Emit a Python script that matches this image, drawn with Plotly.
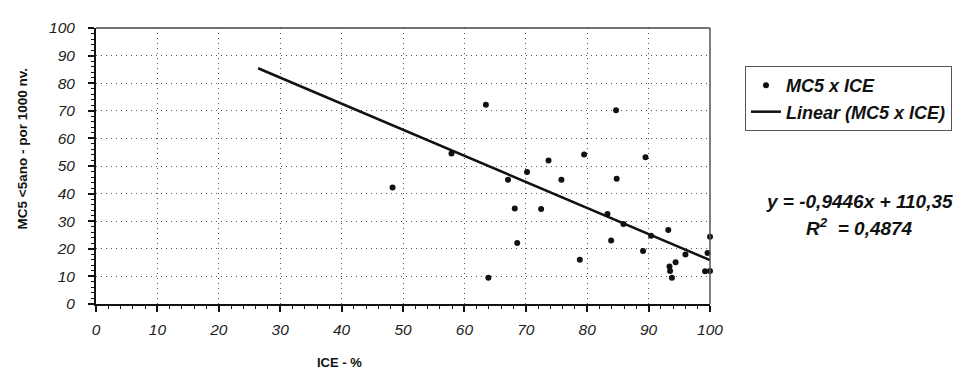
import plotly.graph_objects as go

# Data
ice_pct = [63.5, 84.7, 57.9, 79.5, 89.5, 73.7, 70.2, 67.1, 75.8, 84.8,
           68.2, 72.5, 83.3, 85.9, 93.2, 90.4, 100.0, 68.6, 83.9, 89.1,
           99.6, 96.0, 78.8, 94.4, 93.4, 93.5, 99.2, 100.0, 93.8, 63.9, 48.3]
mc5 = [72.2, 70.2, 54.5, 54.2, 53.2, 52.0, 47.8, 45.0, 45.0, 45.4,
       34.6, 34.4, 32.6, 29.0, 26.8, 24.7, 24.4, 22.1, 23.0, 19.2,
       18.5, 17.9, 16.0, 15.1, 13.6, 12.0, 11.9, 12.0, 9.5, 9.5, 42.2]

# Trendline as reported in the chart
slope = -0.9446
intercept = 110.35
trend_x = [26.4, 100.0]
trend_y = [slope * x + intercept for x in trend_x]

x_ticks = list(range(0, 101, 10))
y_ticks = list(range(0, 101, 10))
x_tick_labels = [f"<i>{v}</i>" for v in x_ticks]
y_tick_labels = [f"<i>{v}</i>" for v in y_ticks]

FONT = "Liberation Sans, Arial, sans-serif"

fig = go.Figure()
fig.add_trace(go.Scatter(
    x=ice_pct, y=mc5, mode="markers", name="MC5 x ICE",
    marker=dict(color="#111111", size=6), cliponaxis=False))
fig.add_trace(go.Scatter(
    x=trend_x, y=trend_y, mode="lines", name="Linear (MC5 x ICE)",
    line=dict(color="#111111", width=2.5), cliponaxis=False))

axis_common = dict(
    range=[0, 100], showline=True, linecolor="#111111", linewidth=2,
    ticks="outside", ticklen=6, tickwidth=1.5, tickcolor="#111111",
    showgrid=True, gridcolor="#555555", griddash="1px,4px", gridwidth=1,
    zeroline=False,
    tickfont=dict(family=FONT, size=15.5, color="#222222"),
    minor=dict(dtick=2, ticks="outside", ticklen=3, tickcolor="#111111",
               tickwidth=1, showgrid=False),
)

fig.update_xaxes(tickvals=x_ticks, ticktext=x_tick_labels, ticklabelstandoff=4,
                 **axis_common)
fig.update_yaxes(tickvals=y_ticks, ticktext=y_tick_labels, ticklabelstandoff=10,
                 **axis_common)

# top and right border of plot area
fig.add_shape(type="line", xref="paper", yref="paper", x0=0, x1=1, y0=1, y1=1,
              line=dict(color="#444444", width=1.5))
fig.add_shape(type="line", xref="paper", yref="paper", x0=1, x1=1, y0=0, y1=1,
              line=dict(color="#555555", width=1.5))

fig.add_annotation(text="MC5 <5ano - por 1000 nv.", xref="paper", yref="paper",
                   x=-0.1205, y=0.56, textangle=-90, showarrow=False,
                   xanchor="center", yanchor="middle",
                   font=dict(family=FONT, size=13.5, color="#111111", weight="bold"))
fig.add_annotation(text="ICE - %", xref="paper", yref="paper",
                   x=0.396, y=-0.2105, showarrow=False,
                   xanchor="center", yanchor="middle",
                   font=dict(family=FONT, size=13, color="#111111", weight="bold"))
fig.add_annotation(text="y = -0,9446x + 110,35", xref="paper", yref="paper",
                   x=1.244, y=0.37, showarrow=False,
                   xanchor="center", yanchor="middle",
                   font=dict(family=FONT, size=19, color="#111111",
                             weight="bold", style="italic"))
fig.add_annotation(text="R<sup>2</sup>  = 0,4874", xref="paper", yref="paper",
                   x=1.244, y=0.279, showarrow=False,
                   xanchor="center", yanchor="middle",
                   font=dict(family=FONT, size=19, color="#111111",
                             weight="bold", style="italic"))

# Page body has an 8px margin: shrink the figure and margins to compensate
fig.update_layout(
    width=959, height=379,
    margin=dict(l=88, r=257, t=11, b=83),
    paper_bgcolor="white", plot_bgcolor="white",
    showlegend=True,
    legend=dict(x=1.057, y=0.862, xanchor="left", yanchor="top",
                bordercolor="#555555", borderwidth=1, bgcolor="white",
                font=dict(family=FONT, size=18, color="#111111",
                          weight="bold", style="italic"),
                tracegroupgap=0),
)

fig.write_html("out.html")
